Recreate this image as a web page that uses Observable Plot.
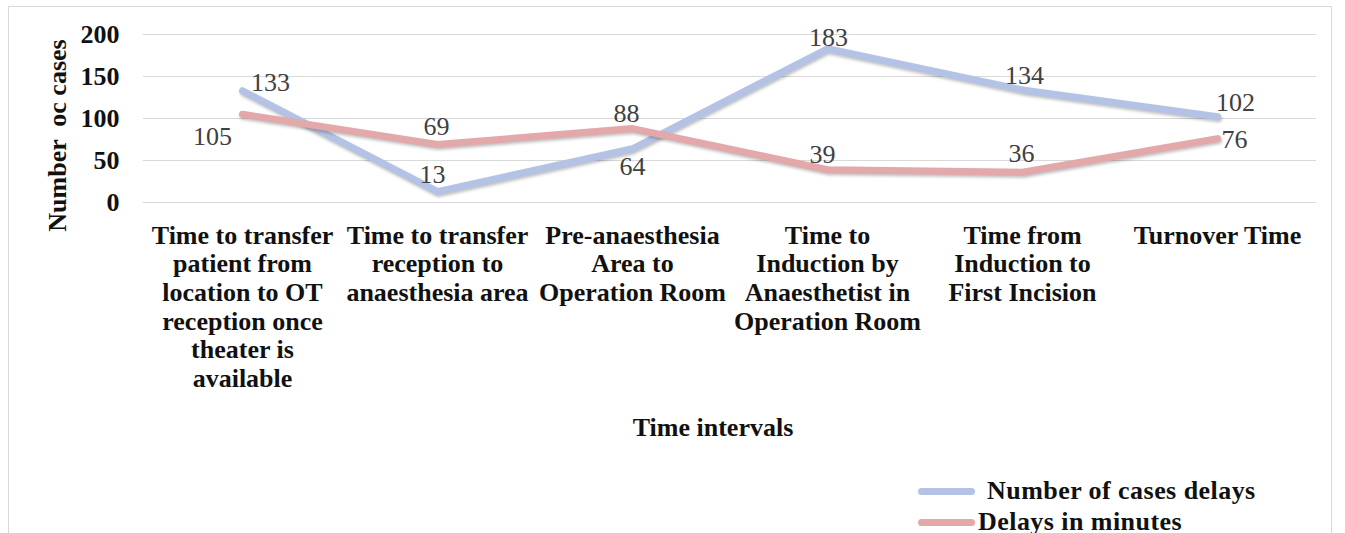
<!DOCTYPE html>
<html>
<head>
<meta charset="utf-8">
<script src="https://cdn.jsdelivr.net/npm/d3@7"></script>
<script src="https://cdn.jsdelivr.net/npm/@observablehq/plot@0.6"></script>
<style>
  html, body { margin: 0; padding: 0; background: #fff; overflow: hidden; }
  #frame { position: absolute; left: 8px; top: 6px; width: 1322px; height: 560px;
           border: 1px solid #d9d9d9; background: #fff; }
  #chart svg { display: block; }
  #chart svg, #chart svg text { font-family: "Liberation Serif", "Times New Roman", serif !important; }
  #chart g[aria-label="line"] path { filter: drop-shadow(1px 2px 1.5px rgba(0,0,0,0.25)); }
  #legend { position: absolute; left: 0; top: 0; font-family: "Liberation Serif", "Times New Roman", serif;
            font-weight: bold; font-size: 26px; color: #111; white-space: nowrap; letter-spacing: 0.45px; }
  #legend .row { position: absolute; display: flex; align-items: center; height: 30px; }
  #legend .sw { width: 57px; height: 7px; border-radius: 4px; }
</style>
</head>
<body>
<div id="frame">
  <div id="chart"></div>
  <div id="legend"></div>
</div>
<script>
const categories = [
  "Time to transfer patient from location to OT reception once theater is available",
  "Time to transfer reception to anaesthesia area",
  "Pre-anaesthesia Area to Operation Room",
  "Time to Induction by Anaesthetist in Operation Room",
  "Time from Induction to First Incision",
  "Turnover Time"
];
const categoryLabels = [
  "Time to transfer\npatient from\nlocation to OT\nreception once\ntheater is\navailable",
  "Time to transfer\nreception to\nanaesthesia area",
  "Pre-anaesthesia\nArea to\nOperation Room",
  "Time to\nInduction by\nAnaesthetist in\nOperation Room",
  "Time from\nInduction to\nFirst Incision",
  "Turnover Time"
];
const seriesNames = ["Number of cases delays", "Delays in minutes"];
const casesDelays = [133, 13, 64, 183, 134, 102];
const delayMinutes = [105, 69, 88, 39, 36, 76];
const yTicks = [0, 50, 100, 150, 200];
const yTitle = "Number  oc cases";
const xTitle = "Time intervals";

const colors = ["#b4c3e5", "#e3a8a9"];

const rows = categories.flatMap((c, i) => [
  {cat: c, i, series: seriesNames[0], value: casesDelays[i]},
  {cat: c, i, series: seriesNames[1], value: delayMinutes[i]}
]);

// label offsets (dx, dy) per series / point
const offsets = {
  [seriesNames[0]]: [[28, -8], [-5, -17], [0, 18], [1, -11], [2, -14], [18, -14]],
  [seriesNames[1]]: [[-30, 22], [-1, -18], [-6, -15], [-5, -15], [-1, -19], [17, 1]]
};
const labelMarks = rows.map(r => {
  const [dx, dy] = offsets[r.series][r.i];
  return Plot.text([r], {x: "cat", y: "value", text: d => String(d.value), dx, dy,
    fill: "#404040", fontSize: 26});
});

const labelMap = new Map(categories.map((c, i) => [c, categoryLabels[i]]));

const chart = Plot.plot({
  width: 1322,
  height: 455,
  marginLeft: 134,
  marginRight: 15,
  marginTop: 27,
  marginBottom: 260,
  style: "font-family: 'Liberation Serif', serif; font-size: 26px; background: transparent;",
  x: {type: "point", domain: categories, padding: 0.5},
  y: {domain: [0, 200]},
  color: {domain: seriesNames, range: colors},
  marks: [
    Plot.gridY(yTicks, {stroke: "#d9d9d9", strokeOpacity: 1, strokeWidth: 1}),
    Plot.axisY(yTicks, {tickSize: 0, tickPadding: 24, fontWeight: "bold", fill: "#111", label: null, fontSize: 26}),
    Plot.axisX({tickSize: 0, tickPadding: 21, fontWeight: "bold", fill: "#111", label: null,
      tickFormat: d => labelMap.get(d), lineHeight: 1.1, fontSize: 26}),
    Plot.line(rows, {x: "cat", y: "value", z: "series", stroke: "series", strokeWidth: 7,
      strokeLinejoin: "round", strokeLinecap: "round"}),
    ...labelMarks,
    Plot.text([xTitle], {frameAnchor: "bottom", text: d => d, dx: -17, dy: 233,
      fontWeight: "bold", fill: "#111", fontSize: 26}),
    Plot.text([yTitle], {frameAnchor: "left", text: d => d, dx: -86, dy: 17, rotate: -90,
      textAnchor: "middle", fontWeight: "bold", fill: "#111", fontSize: 26})
  ]
});
document.getElementById("chart").appendChild(chart);

// legend (HTML, below the plot area)
const legend = document.getElementById("legend");
const legendPos = [{left: 909, top: 469, gap: 12}, {left: 909, top: 500, gap: 3}];
seriesNames.forEach((name, k) => {
  const row = document.createElement("div");
  row.className = "row";
  row.style.left = legendPos[k].left + "px";
  row.style.top = legendPos[k].top + "px";
  const sw = document.createElement("div");
  sw.className = "sw";
  sw.style.background = colors[k];
  sw.style.marginRight = legendPos[k].gap + "px";
  const t = document.createElement("span");
  t.textContent = name;
  row.appendChild(sw);
  row.appendChild(t);
  legend.appendChild(row);
});
</script>
</body>
</html>
